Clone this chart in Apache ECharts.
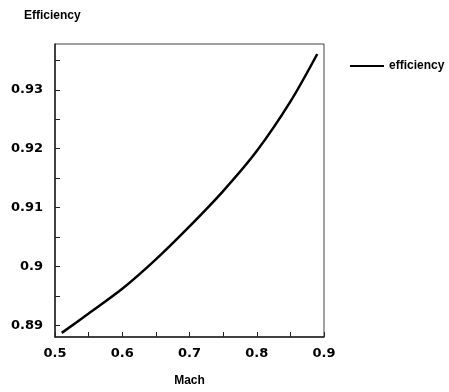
<!DOCTYPE html>
<html>
<head>
<meta charset="utf-8">
<script src="https://cdn.jsdelivr.net/npm/echarts@6/dist/echarts.min.js"></script>
<style>
  html, body { margin: 0; padding: 0; background: #fff; }
  #chart { width: 449px; height: 392px; }
</style>
</head>
<body>
<div id="chart"></div>
<script>
// Efficiency vs Mach number
const mach = [0.51, 0.55, 0.6, 0.65, 0.7, 0.75, 0.8, 0.85, 0.89];
const efficiency = [0.8887, 0.8920, 0.8962, 0.9012, 0.9068, 0.9128, 0.9196, 0.9280, 0.9361];
const xTicks = [0.5, 0.55, 0.6, 0.65, 0.7, 0.75, 0.8, 0.85, 0.9];
const xLabels = [0.5, 0.6, 0.7, 0.8, 0.9];
const yTicks = [0.89, 0.895, 0.9, 0.905, 0.91, 0.915, 0.92, 0.925, 0.93, 0.935];
const yLabels = [0.89, 0.9, 0.91, 0.92, 0.93];
const seriesName = 'efficiency';

const chart = echarts.init(document.getElementById('chart'), null, { renderer: 'canvas' });
const labelFont = { color: '#000', fontFamily: 'DejaVu Sans', fontWeight: 'bold', fontSize: 13 };
const nameFont = { color: '#000', fontFamily: 'Liberation Sans', fontWeight: 'bold', fontSize: 12 };

chart.setOption({
  animation: false,
  backgroundColor: '#fff',
  grid: { left: 55, right: 125, top: 44, bottom: 55, show: true, borderColor: '#444', borderWidth: 1 },
  legend: {
    data: [seriesName],
    left: 345, top: 55,
    icon: 'rect', itemWidth: 34, itemHeight: 2, itemGap: 8,
    textStyle: nameFont
  },
  xAxis: {
    type: 'value', min: 0.5, max: 0.9,
    name: 'Mach', nameLocation: 'middle', nameGap: 38, nameTextStyle: nameFont,
    axisLine: { lineStyle: { color: '#222', width: 1.5 } },
    axisTick: { inside: true, length: 5, customValues: xTicks, lineStyle: { color: '#222' } },
    axisLabel: { customValues: xLabels, margin: 10, ...labelFont },
    splitLine: { show: false }
  },
  yAxis: {
    type: 'value', min: 0.888, max: 0.9378,
    name: 'Efficiency', nameLocation: 'end', nameGap: 0, nameTextStyle: { ...nameFont, align: 'left', padding: [0, 0, 22, -31] },
    axisLine: { lineStyle: { color: '#222', width: 1.5 } },
    axisTick: { inside: true, length: 5, customValues: yTicks, lineStyle: { color: '#222' } },
    axisLabel: { customValues: yLabels, margin: 12, ...labelFont },
    splitLine: { show: false }
  },
  series: [{
    name: seriesName,
    type: 'line',
    data: mach.map((m, i) => [m, efficiency[i]]),
    showSymbol: false,
    smooth: 0.3,
    lineStyle: { color: '#000', width: 2.5 },
    itemStyle: { color: '#000' }
  }]
});
</script>
</body>
</html>
